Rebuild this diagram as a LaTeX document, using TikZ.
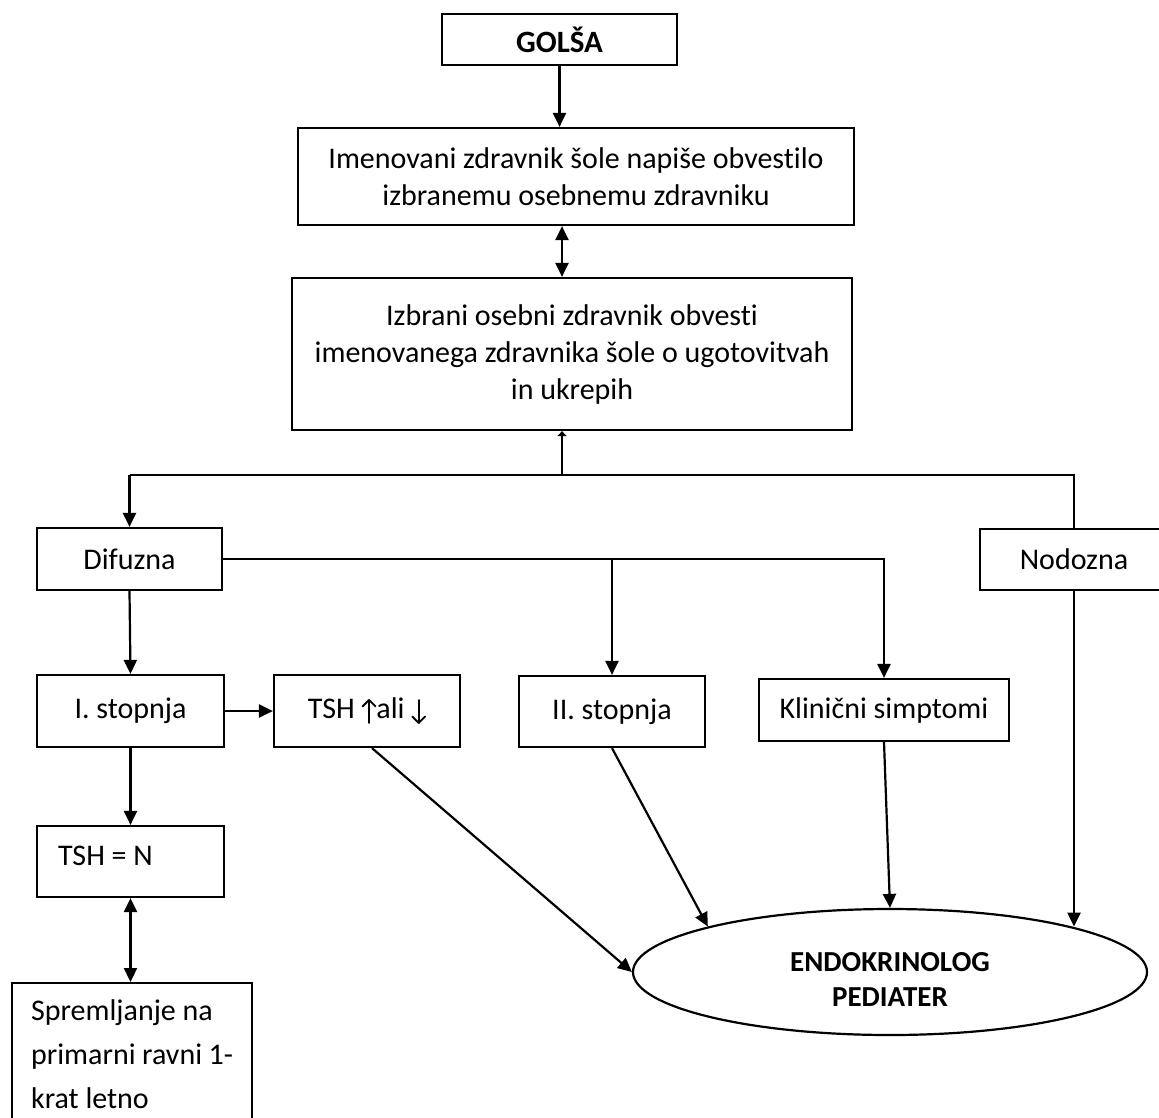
\documentclass[tikz,border=0pt]{standalone}
\usepackage{fontspec}
\setmainfont{Carlito}[Ligatures=NoCommon]
\usetikzlibrary{arrows.meta,shapes.geometric}
% thin open-headed up/down arrows for the TSH label
\newcommand{\tshup}{\tikz[baseline=0pt,x=1pt,y=1pt,line width=1.8pt,line cap=round,line join=round]
  {\draw (0,-4)--(0,19); \draw (-6.5,12.5)--(0,19)--(6.5,12.5);}}
\newcommand{\tshdown}{\tikz[baseline=0pt,x=1pt,y=1pt,line width=1.8pt,line cap=round,line join=round]
  {\draw (0,19)--(0,-4); \draw (-6.5,2.5)--(0,-4)--(6.5,2.5);}}
\begin{document}
\begin{tikzpicture}[x=1pt,y=-1pt,
  box/.style={draw,line width=2.2pt,fill=white,inner sep=0pt,align=flush center,
              font=\fontsize{30}{37}\selectfont},
  arr/.style={line width=2.2pt,-{Triangle[length=14pt,width=13pt]}},
  dbl/.style={line width=2.2pt,{Triangle[length=14pt,width=13pt]}-{Triangle[length=14pt,width=13pt]}},
  link/.style={line width=2.2pt}]
\useasboundingbox (0,0) rectangle (1159,1117);

% boxes
\node[box,minimum width=235,minimum height=51,
      font=\fontsize{31}{37}\selectfont\bfseries] (golsa) at (559.5,39.5) {GOLŠA};
\node[box,minimum width=556,minimum height=97] (obvestilo) at (576,176.5)
  {Imenovani zdravnik šole napiše obvestilo\\izbranemu osebnemu zdravniku};
\node[box,minimum width=560,minimum height=152] (osebni) at (572,354)
  {Izbrani osebni zdravnik obvesti\\imenovanega zdravnika šole o ugotovitvah\\in ukrepih};
\node[box,minimum width=185,minimum height=62] (difuzna) at (129.5,559) {Difuzna};
\node[box,minimum width=188,minimum height=61] (nodozna) at (1074,559.5) {Nodozna};
\node[box,minimum width=187,minimum height=72] (prva) at (130.5,711) {I. stopnja};
\node[box,minimum width=186,minimum height=72] (tsh) at (367,711) {TSH \tshup ali \tshdown};
\node[box,minimum width=186,minimum height=71] (druga) at (612,711.5) {II. stopnja};
\node[box,minimum width=250,minimum height=62] (klinicni) at (884,710) {Klinični simptomi};
\node[box,text width=145,inner xsep=21,minimum height=71,align=flush left] (tshn) at (130.5,861.5)
  {\raisebox{6pt}[\height][\depth]{TSH = N}};
\node[box,anchor=north west,text width=202,inner xsep=19,inner ysep=17,align=flush left,
      font=\fontsize{30}{44}\selectfont] (spremljanje) at (11,982)
  {Spremljanje na\\primarni ravni 1-\\krat letno};
\node[draw,line width=2.2pt,ellipse,minimum width=514,minimum height=126,inner sep=0pt] (endo) at (890,972) {};
\node[align=flush center,inner sep=0pt,font=\fontsize{29}{35}\selectfont\bfseries] (endotext)
  at ([yshift=-7pt]endo.center) {ENDOKRINOLOG\\PEDIATER};

% branching points
\coordinate (hub) at (562,475);
\coordinate (hubL) at (129.5,475);
\coordinate (hubR) at (1074,475);

% connectors
\draw[arr] (golsa.south) -- (golsa.south |- obvestilo.north);
\draw[dbl] (obvestilo.south -| hub) -- (osebni.north -| hub);
\draw[line width=2.2pt,-{Triangle[length=5pt,width=9pt]}] (hub) -- (hub |- osebni.south);
\draw[link] (hubL) -- (hubR) -- (nodozna.north);
\draw[arr] (hubL) -- (difuzna.north);
\draw[arr] (difuzna.east) -| (klinicni.north);
\draw[arr] (difuzna.east -| druga.north) -- (druga.north);
\draw[arr] (difuzna.south) -- (prva.north);
\draw[arr] (prva.east) -- (tsh.west);
\draw[arr] (prva.south) -- (tshn.north);
\draw[dbl] (tshn.south) -- (tshn.south |- spremljanje.north);
\draw[arr] ([xshift=5pt]tsh.south) -- (endo.west);
\draw[arr] (druga.south) -- (endo.166);
\draw[arr] (klinicni.south) -- (endo.north);
\draw[arr] (nodozna.south) -- (nodozna.south |- endo.14);
\end{tikzpicture}
\end{document}
